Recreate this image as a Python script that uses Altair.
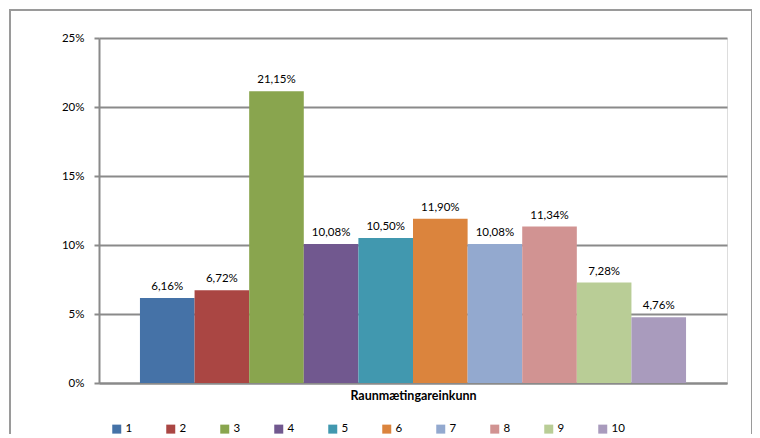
import altair as alt
import pandas as pd

categories = ["1", "2", "3", "4", "5", "6", "7", "8", "9", "10"]
values = [6.16, 6.72, 21.15, 10.08, 10.50, 11.90, 10.08, 11.34, 7.28, 4.76]
colors = ["#4572A7", "#AA4643", "#89A54E", "#71588F", "#4198AF",
          "#DB843D", "#93A9CF", "#D19392", "#B9CD96", "#A99BBD"]
y_ticks = [0, 5, 10, 15, 20, 25]
x_title = "Raunmætingareinkunn"

df = pd.DataFrame({"cat": categories, "v": values})
FONT = "Lato"
GRID = "#8a8a8a"

x_enc = alt.X("cat:N", sort=categories,
              scale=alt.Scale(paddingInner=0, paddingOuter=0.75),
              axis=alt.Axis(title=x_title, labels=False, ticks=False,
                            domainColor=GRID, domainWidth=2,
                            titleFont=FONT, titleFontSize=12.5, titleFontWeight="bold",
                            titleColor="#000", titlePadding=6))
y_enc = alt.Y("v:Q", scale=alt.Scale(domain=[0, 25], nice=False),
              axis=alt.Axis(title=None, values=y_ticks, labelExpr="datum.value + '%'",
                            grid=True, gridColor=GRID, gridWidth=2,
                            domainColor=GRID, domainWidth=2,
                            tickColor=GRID, tickWidth=2, tickSize=5,
                            labelFont=FONT, labelFontSize=11.5, labelColor="#000",
                            labelPadding=10))

base = alt.Chart(df)

bars = base.mark_bar().encode(
    x=x_enc, y=y_enc,
    color=alt.Color("cat:N", sort=categories,
                    scale=alt.Scale(domain=categories, range=colors),
                    legend=alt.Legend(title=None, orient="none", legendX=12, legendY=385,
                                      direction="horizontal", columns=10,
                                      symbolType="square", symbolSize=81,
                                      symbolStrokeWidth=0, columnPadding=32,
                                      labelFont=FONT, labelFontSize=11.5,
                                      labelColor="#000", labelOffset=3)),
)

labels = base.transform_calculate(
    lbl="replace(format(datum.v, '.2f'), '.', ',') + '%'"
).mark_text(baseline="bottom", dy=-6, font=FONT, fontSize=11.5, color="#000").encode(
    x=alt.X("cat:N", sort=categories), y="v:Q", text="lbl:N")

one = alt.Chart(pd.DataFrame({"k": [0]}))
frame_style = dict(stroke="#9a9a9a", strokeWidth=2, clip=False)
left = one.mark_rule(**frame_style).encode(x=alt.value(-89), y=alt.value(-28), y2=alt.value(470))
right = one.mark_rule(**frame_style).encode(x=alt.value(653), y=alt.value(-28), y2=alt.value(470))
top = one.mark_rule(**frame_style).encode(x=alt.value(-90), x2=alt.value(654), y=alt.value(-28))

chart = alt.layer(left, right, top, bars, labels).properties(
    width=628, height=345,
    autosize=alt.AutoSizeParams(type="none"),
    padding={"left": 91, "top": 30, "right": 25, "bottom": 51},
).configure_view(stroke=None).configure(font=FONT)

chart.save("out.html", embed_options={"renderer": "svg", "actions": False})
